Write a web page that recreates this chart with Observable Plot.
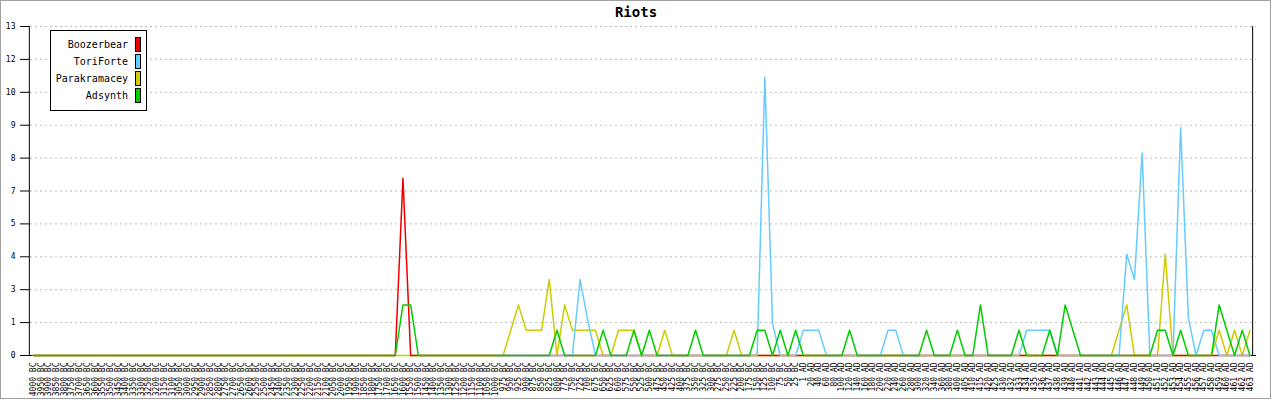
<!DOCTYPE html>
<html>
<head>
<meta charset="utf-8">
<script src="https://cdn.jsdelivr.net/npm/d3@7"></script>
<script src="https://cdn.jsdelivr.net/npm/@observablehq/plot@0.6"></script>
<style>
  body { margin: 0; background: #fff; }
  #wrap { position: relative; width: 1272px; height: 400px; overflow: hidden; background: #fff; }
  #chart { position: absolute; left: 0; top: 0; }
  #border { position: absolute; left: 0; top: 0; width: 1271px; height: 399px; border: 1px solid #a0a0a0; box-sizing: border-box; pointer-events: none; }
  #title { position: absolute; left: 0; top: 4px; width: 1272px; text-align: center; font: bold 14px "DejaVu Sans Mono", monospace; line-height: 16px; color: #000; }
  #legend { position: absolute; left: 50px; top: 30px; width: 97px; height: 81px; border: 1px solid #000; box-sizing: border-box; background: #fff; font: 10px "DejaVu Sans Mono", monospace; color: #000; }
  .row { position: absolute; right: 5px; height: 15px; display: flex; align-items: center; }
  .sw { width: 6px; height: 15px; border: 1px solid #000; box-sizing: border-box; margin-left: 7px; }
</style>
</head>
<body>
<div id="wrap">
  <div id="chart"></div>
  <div id="title"></div>
  <div id="legend"></div>
  <div id="border"></div>
</div>
<script>
const title = "Riots";

const categories = [
  "4000 BC","3950 BC","3900 BC","3850 BC","3800 BC","3750 BC","3700 BC","3650 BC","3600 BC","3550 BC",
  "3500 BC","3450 BC","3400 BC","3350 BC","3300 BC","3250 BC","3200 BC","3150 BC","3100 BC","3050 BC",
  "3000 BC","2950 BC","2900 BC","2850 BC","2800 BC","2750 BC","2700 BC","2650 BC","2600 BC","2550 BC",
  "2500 BC","2450 BC","2400 BC","2350 BC","2300 BC","2250 BC","2200 BC","2150 BC","2100 BC","2050 BC",
  "2000 BC","1950 BC","1900 BC","1850 BC","1800 BC","1750 BC","1700 BC","1650 BC","1600 BC","1550 BC",
  "1500 BC","1450 BC","1400 BC","1350 BC","1300 BC","1250 BC","1200 BC","1150 BC","1100 BC","1050 BC",
  "1000 BC","975 BC","950 BC","925 BC","900 BC","875 BC","850 BC","825 BC","800 BC","775 BC",
  "750 BC","725 BC","700 BC","675 BC","650 BC","625 BC","600 BC","575 BC","550 BC","525 BC",
  "500 BC","475 BC","450 BC","425 BC","400 BC","375 BC","350 BC","325 BC","300 BC","275 BC",
  "250 BC","225 BC","200 BC","175 BC","150 BC","125 BC","100 BC","75 BC","50 BC","25 BC",
  "1 AD","20 AD","40 AD","60 AD","80 AD","100 AD","120 AD","140 AD","160 AD","180 AD",
  "200 AD","220 AD","240 AD","260 AD","280 AD","300 AD","320 AD","340 AD","360 AD","380 AD",
  "400 AD","405 AD","410 AD","415 AD","420 AD","425 AD","430 AD","432 AD","433 AD","434 AD",
  "435 AD","436 AD","437 AD","438 AD","439 AD","440 AD","441 AD","442 AD","443 AD","444 AD",
  "445 AD","446 AD","447 AD","448 AD","449 AD","450 AD","451 AD","452 AD","453 AD","454 AD",
  "455 AD","456 AD","457 AD","458 AD","459 AD","460 AD","461 AD","462 AD","463 AD"
];

const seriesNames = ["Boozerbear", "ToriForte", "Parakramacey", "Adsynth"];
const seriesColors = ["#ee0000", "#66ccff", "#cccc00", "#00cc00"];

const boozerbear = [
  0,0,0,0,0,0,0,0,0,0,  0,0,0,0,0,0,0,0,0,0,
  0,0,0,0,0,0,0,0,0,0,  0,0,0,0,0,0,0,0,0,0,
  0,0,0,0,0,0,0,0,7,0,  0,0,0,0,0,0,0,0,0,0,
  0,0,0,0,0,0,0,0,0,0,  0,0,0,0,0,0,0,0,0,0,
  0,0,0,0,0,0,0,0,0,0,  0,0,0,0,0,0,0,0,0,0,
  0,0,0,0,0,0,0,0,0,0,  0,0,0,0,0,0,0,0,0,0,
  0,0,0,0,0,0,0,0,0,0,  0,0,0,0,0,0,0,0,0,0,
  0,0,0,0,0,0,0,0,0,0,  0,0,0,0,0,0,0,0,0,0,
  0,0,0,0,0,0,0,0,0
];

const toriForte = [
  null,null,null,null,null,null,null,null,null,null,  null,null,null,null,null,null,null,null,null,null,
  null,null,null,null,null,null,null,null,null,null,  null,null,null,null,null,null,null,null,null,null,
  null,null,null,null,null,null,null,null,null,null,  null,null,null,null,null,null,null,null,null,null,
  0,0,0,0,0,0,0,0,0,0,  0,3,1.4,0,0,0,0,0,0,0,
  0,0,0,0,0,0,0,0,0,0,  0,0,0,0,0,11,1.25,0,0,0,
  1,1,1,0,0,0,0,0,0,0,  0,1,1,0,0,0,0,0,0,0,
  0,0,0,0,0,0,0,0,0,1,  1,1,1,0,0,0,0,0,0,0,
  0,0,4,3,8,0,0,0,0,9,  1.5,0,1,1,0,0,0,0,0
];

const parakramacey = [
  0,0,0,0,0,0,0,0,0,0,  0,0,0,0,0,0,0,0,0,0,
  0,0,0,0,0,0,0,0,0,0,  0,0,0,0,0,0,0,0,0,0,
  0,0,0,0,0,0,0,0,0,0,  0,0,0,0,0,0,0,0,0,0,
  0,0,1,2,1,1,1,3,0,2,  1,1,1,1,0,0,1,1,1,0,
  0,0,1,0,0,0,0,0,0,0,  0,1,0,0,0,0,0,0,0,0,
  0,0,0,0,0,0,0,0,0,0,  0,0,0,0,0,0,0,0,0,0,
  0,0,0,0,0,0,0,0,0,0,  0,0,0,0,0,0,0,0,0,0,
  0,1,2,0,0,0,0,4,0,0,  0,0,0,0,1,0,1,0,1
];

const adsynth = [
  0,0,0,0,0,0,0,0,0,0,  0,0,0,0,0,0,0,0,0,0,
  0,0,0,0,0,0,0,0,0,0,  0,0,0,0,0,0,0,0,0,0,
  0,0,0,0,0,0,0,0,2,2,  0,0,0,0,0,0,0,0,0,0,
  0,0,0,0,0,0,0,0,1,0,  0,0,0,0,1,0,0,0,1,0,
  1,0,0,0,0,0,1,0,0,0,  0,0,0,0,1,1,0,1,0,1,
  0,0,0,0,0,0,1,0,0,0,  0,0,0,0,0,0,1,0,0,0,
  1,0,0,2,0,0,0,0,1,0,  0,0,1,0,2,1,0,0,0,0,
  0,0,0,0,0,0,1,1,0,1,  0,0,0,0,2,1,0,1,0
];

const yTickValues = [0, 1.3, 2.6, 3.9, 5.2, 6.5, 7.8, 9.1, 10.4, 11.7, 13];
const yTickLabels = ["0", "1", "3", "4", "5", "7", "8", "9", "10", "12", "13"];

// tidy table for Plot
const seriesValues = [boozerbear, toriForte, parakramacey, adsynth];
const rows = [];
seriesNames.forEach((name, s) => {
  categories.forEach((cat, i) => rows.push({series: name, cat, value: seriesValues[s][i]}));
});
const colorOf = Object.fromEntries(seriesNames.map((n, i) => [n, seriesColors[i]]));
const drawOrder = ["Parakramacey", "Boozerbear", "ToriForte", "Adsynth"];

const W = 1272, H = 400;
const mL = 25, mR = 16, mT = 26, mB = 45;

const plot = Plot.plot({
  width: W, height: H,
  marginLeft: mL, marginRight: mR, marginTop: mT, marginBottom: mB,
  style: {fontFamily: "'DejaVu Sans Mono', monospace", fontSize: "8px", background: "transparent", color: "#000"},
  x: {type: "point", domain: categories, range: [29, 1253.3], tickRotate: -90, tickSize: 0, tickPadding: 7, label: null},
  y: {domain: [0, 13], ticks: yTickValues, tickFormat: d => yTickLabels[yTickValues.indexOf(d)], tickSize: 5, tickPadding: 5, label: null},
  marks: [
    Plot.ruleY(yTickValues.slice(1), {stroke: "#bbbbbb", strokeDasharray: "2,3", insetLeft: 5}),
    Plot.ruleY(yTickValues, {stroke: "#000", insetRight: W - mL - mR - 4}),
    Plot.ruleY([0], {stroke: "#000", strokeWidth: 1.2}),
    Plot.ruleX([categories[0]], {stroke: "#000", dx: -4}),
    Plot.ruleX([categories[categories.length - 1]], {stroke: "#000", dx: 2.7}),
    ...drawOrder.map(name => Plot.line(rows.filter(r => r.series === name), {
      x: "cat", y: "value", stroke: colorOf[name], strokeWidth: 1.5, curve: "linear"
    }))
  ]
});
document.getElementById("chart").appendChild(plot);

document.getElementById("title").textContent = title;

const legend = document.getElementById("legend");
seriesNames.forEach((name, i) => {
  const row = document.createElement("div");
  row.className = "row";
  row.style.top = (6 + i * 17) + "px";
  const t = document.createElement("span");
  t.textContent = name;
  const sw = document.createElement("div");
  sw.className = "sw";
  sw.style.background = seriesColors[i];
  row.appendChild(t);
  row.appendChild(sw);
  legend.appendChild(row);
});
</script>
</body>
</html>
